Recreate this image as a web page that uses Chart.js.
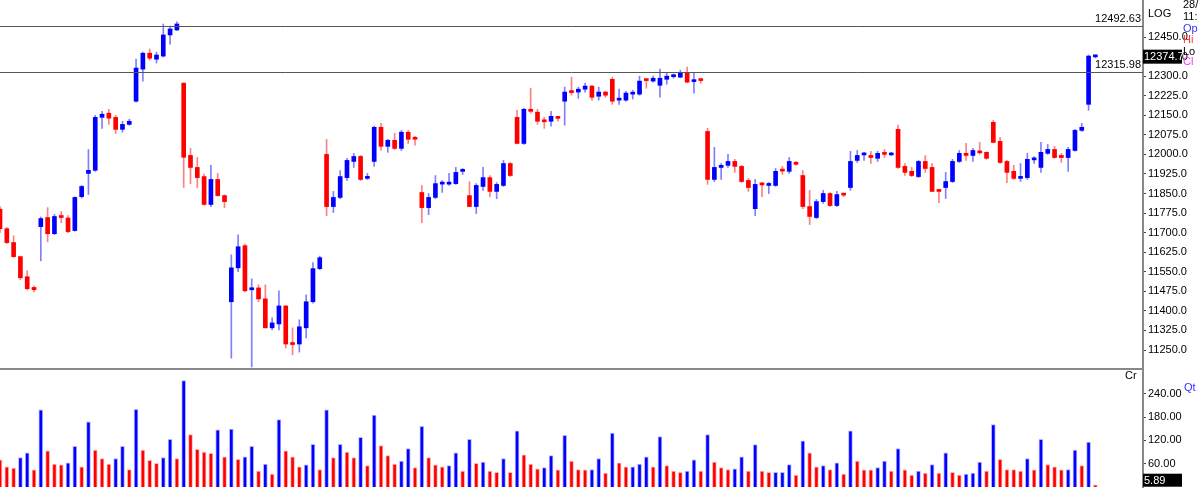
<!DOCTYPE html>
<html>
<head>
    <title>Candles</title>
    <script src="https://cdn.jsdelivr.net/npm/chart.js"></script>
    <style>
        body { margin: 0; background: #fff; overflow: hidden; }
        canvas { display: block; }
    </style>
</head>
<body>
    <canvas id="priceChart" width="1200" height="368"></canvas>
    <canvas id="volChart" width="1200" height="121"></canvas>
    <script>
        const opens = [11790,11715,11662,11608,11531,11490,11723,11758,11696,11765,11756,11708,11838,11927,11939,12142,12158,12142,12096,12115,
            12204,12327,12388,12365,12377,12458,12477,12273,11996,11950,11915,11808,11904,11842,11435,11565,11650,11481,11488,11446,
            11335,11350,11419,11275,11273,11335,11435,11562,12000,11800,11835,11911,11973,11992,11908,11973,12104,12031,12054,12023,
            12085,12065,11854,11796,11835,11886,11886,11888,11935,11842,11800,11877,11911,11858,11881,11965,12142,12042,12173,12162,
            12130,12127,12142,12204,12242,12239,12250,12262,12223,12239,12288,12208,12208,12231,12231,12287,12281,12265,12288,12298,
            12296,12312,12279,12286,12088,11904,11950,11958,11973,11954,11900,11792,11887,11881,11881,11940,11935,11969,11919,11800,
            11758,11819,11850,11804,11848,11873,11977,11998,11996,11985,12004,11998,12096,11954,11935,11915,11973,11950,11864,11873,
            11896,11973,12004,11996,12012,12008,12123,12050,11973,11935,11908,11911,11979,11950,12004,12019,11996,11988,12015,12092,
            12192,12374];
        const highs = [11800,11720,11688,11610,11554,11496,11760,11796,11770,11781,11765,11837,11881,12019,12150,12165,12173,12150,12127,12135,
            12365,12392,12404,12392,12500,12492,12508,12275,12023,11988,11925,11958,11927,11845,11615,11692,11656,11523,11500,11500,
            11373,11477,11420,11335,11366,11462,11585,11610,12058,11858,11938,11985,12004,11996,11927,12108,12119,12058,12081,12092,
            12092,12069,11881,11850,11919,11900,11927,11950,11946,11896,11888,11950,11919,11892,11977,11969,12169,12177,12254,12173,
            12142,12165,12146,12258,12296,12258,12273,12265,12258,12242,12296,12250,12242,12246,12300,12288,12300,12327,12312,12308,
            12323,12335,12312,12288,12100,12027,11965,12000,11981,11958,11908,11904,11892,11892,11946,11954,11988,11973,11938,11862,
            11827,11862,11854,11858,11850,12012,12015,12008,12012,12012,12019,12008,12112,11965,11950,11977,11996,11965,11866,11931,
            11981,12015,12042,12023,12046,12010,12131,12065,11977,11958,11965,12004,11992,12046,12038,12031,12004,12027,12096,12119,
            12381,12381];
        const lows = [11700,11658,11605,11520,11480,11473,11592,11665,11692,11738,11700,11706,11833,11846,11935,12100,12115,12080,12085,12112,
            12200,12281,12362,12350,12373,12423,12475,11873,11888,11873,11805,11800,11840,11796,11219,11550,11473,11185,11435,11335,
            11327,11327,11258,11231,11242,11296,11430,11558,11765,11777,11830,11900,11950,11900,11904,11954,12015,12008,12019,12015,
            12042,12035,11738,11769,11830,11854,11881,11885,11923,11800,11773,11862,11838,11830,11877,11915,12040,12038,12158,12115,
            12100,12108,12127,12112,12227,12215,12239,12208,12208,12219,12192,12192,12204,12212,12227,12254,12277,12219,12269,12292,
            12294,12275,12235,12273,11885,11896,11904,11950,11931,11892,11858,11765,11838,11850,11877,11923,11927,11958,11792,11731,
            11754,11812,11800,11800,11838,11862,11969,11977,11965,11973,11988,11996,11946,11919,11915,11911,11931,11858,11815,11831,
            11892,11969,11977,11973,12000,11981,12044,11965,11892,11904,11896,11904,11965,11931,12000,11985,11969,11935,12012,12088,
            12169,12370];
        const closes = [11715,11662,11608,11527,11485,11481,11754,11696,11762,11758,11704,11835,11877,11939,12142,12154,12139,12096,12115,12127,
            12331,12388,12369,12381,12458,12481,12500,11989,11950,11911,11808,11904,11842,11819,11565,11646,11477,11487,11446,11335,
            11354,11419,11273,11271,11339,11435,11562,11604,11800,11835,11915,11977,11992,11904,11915,12104,12031,12054,12023,12085,
            12058,12058,11796,11835,11888,11890,11890,11931,11942,11800,11881,11911,11858,11885,11965,11919,12042,12173,12165,12127,
            12125,12146,12138,12239,12237,12250,12262,12219,12239,12227,12204,12215,12235,12237,12281,12283,12292,12292,12300,12302,
            12312,12277,12283,12283,11904,11950,11958,11973,11954,11896,11873,11885,11883,11887,11935,11936,11973,11962,11800,11762,
            11819,11850,11804,11846,11844,11973,11996,12002,11988,12004,12000,12002,11950,11931,11919,11973,11946,11858,11858,11896,
            11973,12004,11996,12015,12006,11985,12046,11969,11931,11908,11915,11981,11983,12008,12019,11988,11988,12019,12092,12104,
            12377,12378];
        const volumes = [70,52,49,76,88,44,199,93,59,57,62,105,52,168,95,73,59,73,105,45,
            200,95,69,61,76,123,73,274,135,97,90,87,147,78,149,71,78,105,41,59,
            33,174,93,78,52,57,110,45,199,76,110,90,76,128,55,185,107,81,59,67,
            99,50,156,76,57,52,55,88,41,123,61,64,41,38,73,38,145,83,59,47,
            50,81,44,133,67,45,44,45,73,36,139,62,52,52,59,78,52,130,55,41,
            38,41,70,41,135,64,50,45,47,78,41,109,41,38,38,38,58,31,119,88,
            52,55,45,62,33,145,67,44,44,50,67,41,99,44,31,41,36,58,36,88,
            38,31,33,36,64,41,161,71,45,45,41,73,44,123,58,52,44,45,95,55,
            116,5.89];
        const volDir = 'RRRBBRBRRRBBRBRRRBBRBRRRBBRBRRRRBRBRBBRBRBRRRBBRBRBRRBRBRRRBBRBRRRBBRBRBRRBRBRRRBBRBRRRBBRBRRBBBRBRRRBBRBRRRBBRBRRBBBRBRRBRBRBRRRBBRBRRBRBRBRRBBBRBRRRRBRBRRRBBRBR';
        const priceTicks = [11250,11325,11400,11475,11550,11625,11700,11775,11850,11925,12000,12075,12150,12225,12300,12375,12450];
        const volTicks = [60,120,180,240];
        const levels = [12492.63, 12315.98];
        const lastPrice = 12374.7;
        const lastVol = 5.89;

        const UP = '#0000ff', DN = '#ff0000';
        const UPW = 'rgba(60,60,255,0.65)', DNW = 'rgba(255,60,60,0.65)';
        const idx = closes.map((c, i) => i);
        const isUp = idx.map(i => closes[i] >= opens[i]);
        const xMax = 168.0;
        const fontFam = '"Liberation Sans", Arial, sans-serif';

        function fixedAxis(ticks, digits) {
            return {
                position: 'right',
                afterFit: s => { s.width = 57; s.paddingTop = 0; s.paddingBottom = 0; },
                afterBuildTicks: s => { s.ticks = ticks.map(v => ({ value: v })); },
                ticks: { color: '#000', font: { family: fontFam, size: 11 }, padding: 2,
                    callback: v => Number(v).toFixed(digits) },
                grid: { drawOnChartArea: false, drawTicks: true, tickLength: 3, color: '#444' },
                border: { display: true, color: '#888', width: 2 },
            };
        }

        const overlay = {
            id: 'overlay',
            afterDraw(chart) {
                const ctx = chart.ctx, a = chart.chartArea, y = chart.scales.y;
                ctx.save();
                ctx.font = '11px ' + fontFam;
                if (chart.canvas.id === 'priceChart') {
                    ctx.strokeStyle = '#555'; ctx.lineWidth = 1;
                    levels.forEach(v => {
                        const py = Math.round(y.getPixelForValue(v)) + 0.5;
                        ctx.beginPath(); ctx.moveTo(0, py); ctx.lineTo(a.right, py); ctx.stroke();
                    });
                    ctx.fillStyle = '#000'; ctx.textAlign = 'right'; ctx.textBaseline = 'bottom';
                    ctx.fillText(levels[0].toFixed(2), a.right - 2, y.getPixelForValue(levels[0]) - 1);
                    ctx.textBaseline = 'middle';
                    ctx.fillText(levels[1].toFixed(2), a.right - 2, y.getPixelForValue(levels[1]) - 7);
                    ctx.textAlign = 'left';
                    ctx.fillText('LOG', a.right + 5, 14);
                    // last price box
                    const ly = y.getPixelForValue(lastPrice);
                    ctx.fillStyle = '#000'; ctx.fillRect(a.right, ly - 7, 39, 14);
                    ctx.fillStyle = '#fff'; ctx.fillText(lastPrice.toFixed(1), a.right + 1, ly);
                    // side legend
                    const side = [['28/', '#000', 5], ['11:', '#000', 17], ['Op', '#3333ff', 29], ['Hi', '#ff3333', 40], ['Lo', '#000', 52], ['Cl', '#ff33ff', 62]];
                    side.forEach(([t, c, ty]) => { ctx.fillStyle = c; ctx.fillText(t, 1183, ty); });
                } else {
                    const ly = y.getPixelForValue(lastVol);
                    ctx.fillStyle = '#000'; ctx.fillRect(a.right, ly - 11, 39, 13);
                    ctx.fillStyle = '#fff'; ctx.textBaseline = 'middle'; ctx.textAlign = 'left';
                    ctx.fillText(lastVol.toFixed(2), a.right + 1, ly - 4);
                    ctx.fillStyle = '#000'; ctx.fillText('Cr', 1125, 8);
                    ctx.fillStyle = '#3333ff'; ctx.fillText('Qt', 1184, 20);
                    ctx.fillStyle = '#888'; ctx.fillRect(0, 0, a.right, 2);
                }
                ctx.restore();
            }
        };

        new Chart(document.getElementById('priceChart'), {
            type: 'bar',
            data: {
                datasets: [
                    {
                        data: idx.map(i => ({ x: i, y: [lows[i], highs[i]] })),
                        backgroundColor: idx.map(i => isUp[i] ? UPW : DNW),
                        barThickness: 1, grouped: false, order: 2,
                    },
                    {
                        data: idx.map(i => ({ x: i, y: [opens[i], closes[i]] })),
                        backgroundColor: idx.map(i => isUp[i] ? UP : DN),
                        barThickness: 4, minBarLength: 2, grouped: false, order: 1,
                    },
                ],
            },
            options: {
                responsive: false, animation: false,
                layout: { padding: 0 },
                plugins: { legend: { display: false }, tooltip: { enabled: false } },
                scales: {
                    x: { type: 'linear', min: 0, max: xMax, offset: false, display: false },
                    y: Object.assign(fixedAxis(priceTicks, 1), { min: 11181, max: 12592 }),
                },
            },
            plugins: [overlay],
        });

        new Chart(document.getElementById('volChart'), {
            type: 'bar',
            data: {
                datasets: [{
                    data: idx.map(i => ({ x: i, y: volumes[i] })),
                    backgroundColor: idx.map(i => volDir[i] === 'B' ? UP : DN),
                    borderColor: idx.map(i => volDir[i] === 'B' ? 'rgba(150,150,255,0.7)' : 'rgba(255,150,150,0.7)'),
                    borderWidth: 1, borderSkipped: 'bottom',
                    barThickness: 4,
                }],
            },
            options: {
                responsive: false, animation: false,
                layout: { padding: { top: 1, bottom: 2 } },
                plugins: { legend: { display: false }, tooltip: { enabled: false } },
                scales: {
                    x: { type: 'linear', min: 0, max: xMax, offset: false, display: false },
                    y: Object.assign(fixedAxis(volTicks, 2), { min: 0, max: 304 }),
                },
            },
            plugins: [overlay],
        });
    </script>
</body>
</html>
